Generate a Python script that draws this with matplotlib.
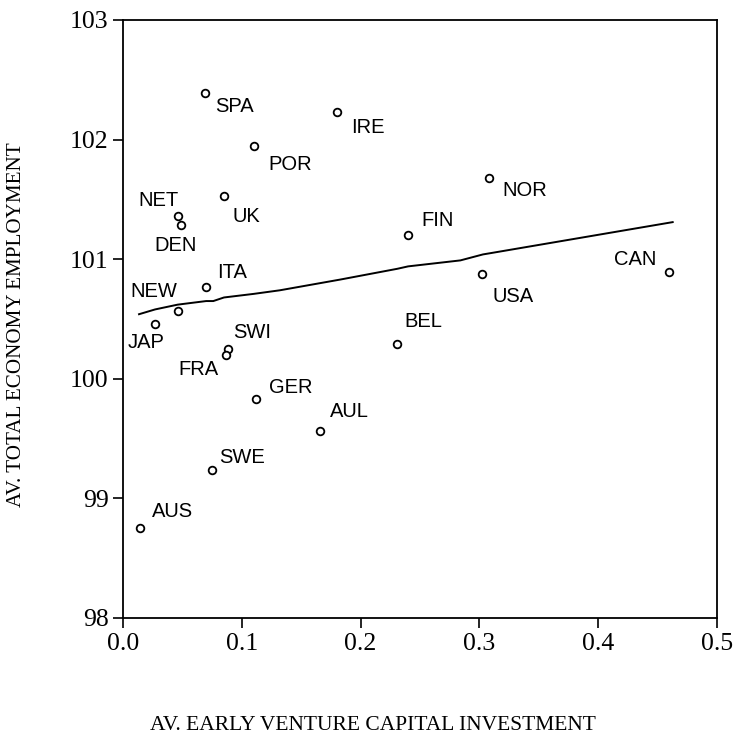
import matplotlib.pyplot as plt

countries = ['SPA', 'IRE', 'POR', 'UK', 'NET', 'DEN', 'FIN', 'NOR', 'USA', 'CAN',
             'ITA', 'NEW', 'JAP', 'SWI', 'FRA', 'BEL', 'GER', 'AUL', 'SWE', 'AUS']
vc_invest = [0.069, 0.180, 0.110, 0.085, 0.046, 0.049, 0.240, 0.308, 0.302, 0.460,
             0.070, 0.046, 0.027, 0.088, 0.087, 0.231, 0.112, 0.166, 0.075, 0.014]
employment = [102.39, 102.23, 101.95, 101.53, 101.36, 101.29, 101.20, 101.68, 100.88, 100.89,
              100.77, 100.57, 100.46, 100.25, 100.20, 100.29, 99.83, 99.56, 99.24, 98.75]

# fitted curve
fit_x = [0.0135, 0.027, 0.046, 0.070, 0.076, 0.085, 0.110, 0.132, 0.166, 0.183,
         0.231, 0.240, 0.284, 0.303, 0.309, 0.4627]
fit_y = [100.54, 100.58, 100.62, 100.65, 100.65, 100.68, 100.71, 100.74, 100.80, 100.83,
         100.92, 100.94, 100.99, 101.04, 101.05, 101.31]

# label placement (pixel offsets from marker, horizontal alignment)
label_pos = {
    'SPA': (10, -14, 'left'), 'IRE': (14, -15, 'left'), 'POR': (15, -19, 'left'),
    'UK': (9, -21, 'left'), 'NET': (1, 16, 'right'), 'DEN': (-6, -21, 'center'),
    'FIN': (13, 15, 'left'), 'NOR': (13, -13, 'left'), 'USA': (11, -23, 'left'),
    'CAN': (-13, 13, 'right'), 'ITA': (11, 14, 'left'), 'NEW': (0, 19, 'right'),
    'JAP': (-9, -19, 'center'), 'SWI': (6, 16, 'left'), 'FRA': (-8, -15, 'right'),
    'BEL': (7, 23, 'left'), 'GER': (13, 12, 'left'), 'AUL': (10, 20, 'left'),
    'SWE': (7, 12, 'left'), 'AUS': (12, 17, 'left'),
}

fig = plt.figure(figsize=(7.37, 7.46), dpi=100)
ax = fig.add_axes([123 / 737, 1 - 618 / 746, 594 / 737, 598 / 746])

ax.plot(fit_x, fit_y, color='black', lw=1.4)
ax.plot(vc_invest, employment, 'o', ms=5.5, mfc='white', mec='black', mew=1.3, ls='none')

for name, x, y in zip(countries, vc_invest, employment):
    dx, dy, ha = label_pos[name]
    ax.annotate(name, (x, y), xytext=(dx, dy), textcoords='offset pixels',
                ha=ha, va='center', fontsize=14.5, family='Liberation Sans')

ax.set_xlim(0, 0.5)
ax.set_ylim(98, 103)
ax.set_xticks([0.0, 0.1, 0.2, 0.3, 0.4, 0.5])
ax.set_xticklabels(['0.0', '0.1', '0.2', '0.3', '0.4', '0.5'])
ax.set_yticks([98, 99, 100, 101, 102, 103])
ax.tick_params(direction='out', length=7.5, width=1.2, labelsize=18.5, pad=3)
for lab in ax.get_xticklabels() + ax.get_yticklabels():
    lab.set_family('Liberation Serif')
for sp in ax.spines.values():
    sp.set_linewidth(1.3)

fig.text(373 / 737, 1 - 725 / 746, 'AV. EARLY VENTURE CAPITAL INVESTMENT',
         ha='center', va='center', fontsize=15.5, family='Liberation Serif')
fig.text(17 / 737, 1 - 325 / 746, 'AV. TOTAL ECONOMY EMPLOYMENT', rotation=90,
         ha='center', va='center', fontsize=15.2, family='Liberation Serif')

fig.savefig('out.png', dpi=100)
